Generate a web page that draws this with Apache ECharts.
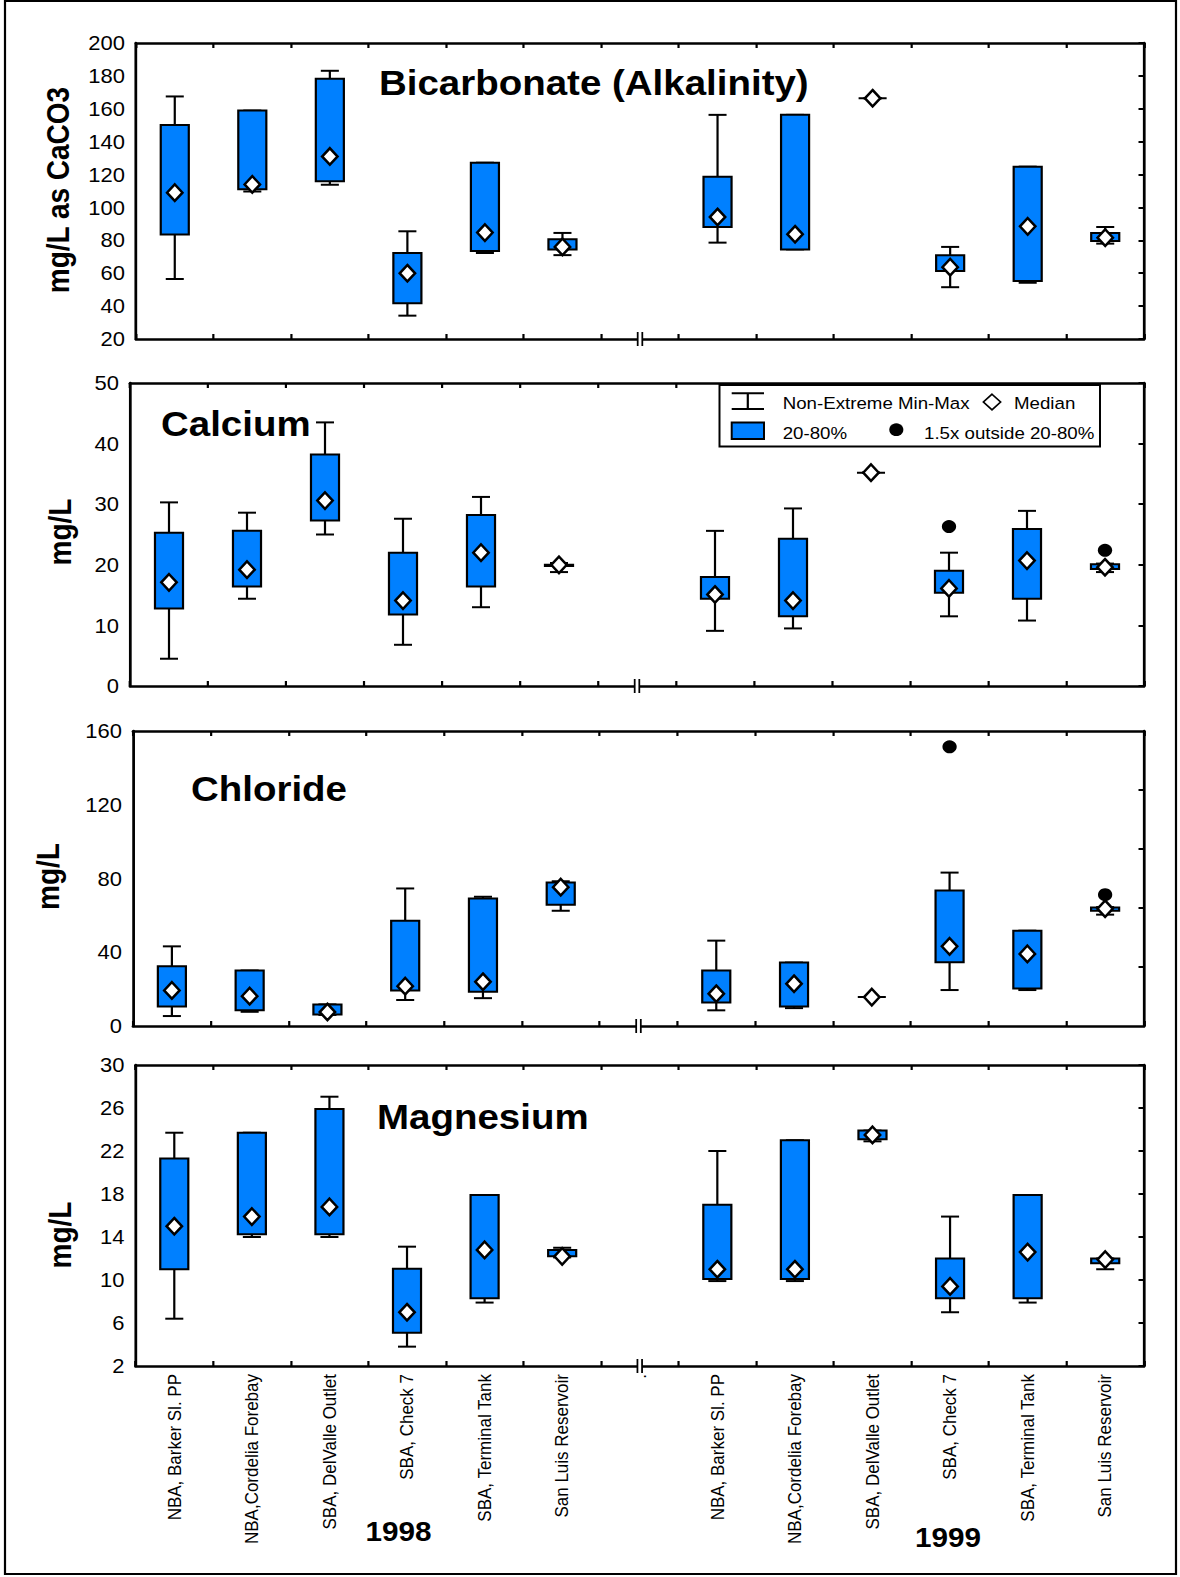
<!DOCTYPE html>
<html>
<head>
<meta charset="utf-8">
<title>Water quality box plots 1998-1999</title>
<script src="https://cdn.jsdelivr.net/npm/echarts@6/dist/echarts.min.js"></script>
<style>
  html, body { margin: 0; padding: 0; background: #fff; overflow: hidden; }
  #chart { width: 1073px; height: 1577px; transform: scaleX(1.09972); transform-origin: 0 0; }
</style>
</head>
<body>
<div id="chart"></div>
<script>
// Horizontal stretch applied to the whole drawing (see the CSS transform above).
const SX = 1180 / 1073;
const X = v => v / SX;

// ---------------- data ----------------
const stations = ['NBA, Barker Sl. PP', 'NBA,Cordelia Forebay', 'SBA, DelValle Outlet',
                  'SBA, Check 7', 'SBA, Terminal Tank', 'San Luis Reservoir'];
const yearLabels = ['1998', '1999'];
// 13 slots on the x axis: six 1998 sites, an axis break, six 1999 sites
const categories = [...stations, '.', ...stations];
const siteSlots = [0, 1, 2, 3, 4, 5, 7, 8, 9, 10, 11, 12];
const breakSlot = 6;

// Bicarbonate (Alkalinity), mg/L as CaCO3
const hco3Min    = [56.5, 109.7, 113.8, 34.2, 72.3, 71.0, 78.6, 74.5, 166.4, 51.5, 54.2, 78.0];
const hco3P20    = [83.5, 111.1, 116.0, 41.8, 73.5, 74.5, 88.1, 74.5, 166.4, 61.3, 55.2, 79.6];
const hco3Median = [109.0, 114.0, 131.0, 60.0, 84.7, 76.0, 94.2, 83.7, 166.4, 63.7, 88.5, 81.6];
const hco3P80    = [150.2, 158.9, 178.2, 72.3, 127.2, 80.6, 118.6, 156.3, 166.4, 70.9, 124.8, 84.5];
const hco3Max    = [167.5, 158.9, 183.1, 85.5, 127.2, 84.5, 156.3, 156.3, 166.4, 76.0, 124.8, 88.1];
const hco3Outliers = [null, null, null, null, null, null, null, null, null, null, null, null];
const hco3Ticks  = [20, 40, 60, 80, 100, 120, 140, 160, 180, 200];

// Calcium, mg/L
const caMin    = [4.5, 14.4, 25.0, 6.8, 13.0, 18.8, 9.1, 9.5, 35.2, 11.5, 10.8, 18.8];
const caP20    = [12.8, 16.4, 27.3, 11.8, 16.4, 19.8, 14.4, 11.5, 35.2, 15.4, 14.4, 19.3];
const caMedian = [17.1, 19.2, 30.6, 14.1, 22.0, 20.0, 15.1, 14.1, 35.2, 16.1, 20.7, 19.6];
const caP80    = [25.3, 25.6, 38.2, 22.0, 28.2, 20.0, 18.0, 24.3, 35.2, 19.0, 25.9, 20.1];
const caMax    = [30.3, 28.6, 43.5, 27.6, 31.2, 20.3, 25.6, 29.3, 35.2, 22.0, 28.9, 20.2];
const caOutliers = [null, null, null, null, null, null, null, null, null, 26.3, null, 22.4];
const caTicks  = [0, 10, 20, 30, 40, 50];

// Chloride, mg/L
const clMin    = [5.4, 7.7, 6.0, 14.1, 15.1, 62.5, 8.5, 9.7, 15.7, 19.5, 19.5, 60.4];
const clP20    = [10.6, 8.5, 6.3, 19.3, 18.6, 65.8, 12.8, 10.6, 15.7, 34.6, 20.4, 62.5];
const clMedian = [19.3, 16.2, 7.6, 21.6, 24.0, 75.3, 17.5, 22.9, 15.7, 43.2, 39.1, 63.6];
const clP80    = [32.4, 30.1, 11.7, 57.1, 69.2, 77.8, 30.1, 34.4, 15.7, 73.5, 51.7, 64.3];
const clMax    = [43.2, 30.1, 11.7, 74.6, 70.1, 78.5, 46.3, 34.4, 15.7, 83.2, 51.7, 64.5];
const clOutliers = [null, null, null, null, null, null, null, null, null, 151.4, null, 71.2];
const clTicks  = [0, 40, 80, 120, 160];
const clRightTicks = [32, 64, 96, 128];

// Magnesium, mg/L
const mgMin    = [6.4, 14.0, 14.0, 3.8, 7.9, 12.1, 9.9, 9.9, 22.9, 7.0, 7.9, 11.0];
const mgP20    = [11.0, 14.25, 14.25, 5.1, 8.3, 12.2, 10.1, 10.1, 23.1, 8.3, 8.3, 11.55];
const mgMedian = [15.0, 15.9, 16.8, 7.0, 12.8, 12.2, 11.0, 11.0, 23.5, 9.4, 12.6, 11.9];
const mgP80    = [21.3, 23.7, 25.9, 11.05, 17.9, 12.8, 17.0, 23.0, 23.9, 12.0, 17.9, 12.0];
const mgMax    = [23.7, 23.7, 27.05, 13.1, 17.9, 13.0, 22.0, 23.0, 23.9, 15.9, 17.9, 12.0];
const mgOutliers = [null, null, null, null, null, null, null, null, null, null, null, null];
const mgTicks  = [2, 6, 10, 14, 18, 22, 26, 30];

// ---------------- panels ----------------
const panels = [
  { title: 'Bicarbonate (Alkalinity)', unit: 'mg/L as CaCO3',
    stats: [hco3Min, hco3P20, hco3Median, hco3P80, hco3Max], outliers: hco3Outliers,
    ticks: hco3Ticks, rightTicks: hco3Ticks },
  { title: 'Calcium', unit: 'mg/L',
    stats: [caMin, caP20, caMedian, caP80, caMax], outliers: caOutliers,
    ticks: caTicks, rightTicks: caTicks },
  { title: 'Chloride', unit: 'mg/L',
    stats: [clMin, clP20, clMedian, clP80, clMax], outliers: clOutliers,
    ticks: clTicks, rightTicks: clRightTicks },
  { title: 'Magnesium', unit: 'mg/L',
    stats: [mgMin, mgP20, mgMedian, mgP80, mgMax], outliers: mgOutliers,
    ticks: mgTicks, rightTicks: mgTicks }
];

// page layout of each panel (screen pixels)
const layout = [
  { left: 136, top: 43, bottom: 339, titleX: 379, titleY: 83.5, unitX: 58, unitY: 190 },
  { left: 130, top: 383, bottom: 686, titleX: 161, titleY: 424, unitX: 60.5, unitY: 532 },
  { left: 133, top: 731, bottom: 1026, titleX: 191, titleY: 789.5, unitX: 48.5, unitY: 876.5 },
  { left: 135.5, top: 1065, bottom: 1366, titleX: 377, titleY: 1117, unitX: 60.5, unitY: 1235 }
];
const PLOT_RIGHT = 1144;

const FONT = '"Liberation Sans", Arial, Helvetica, sans-serif';
const BLUE = '#0080ff';
const BOX_W = 25.5;   // chart units (stretched on screen)
const CAP_W = 16.4;

function renderBox(params, api) {
  const x = api.value(0);
  const pMin = api.coord([x, api.value(1)]);
  const pLow = api.coord([x, api.value(2)]);
  const pHigh = api.coord([x, api.value(3)]);
  const pMax = api.coord([x, api.value(4)]);
  const cx = pMin[0];
  const stroke = { stroke: '#000', lineWidth: 2 };
  return {
    type: 'group',
    children: [
      { type: 'line', shape: { x1: cx, y1: pMin[1], x2: cx, y2: pMax[1] }, style: stroke },
      { type: 'line', shape: { x1: cx - CAP_W / 2, y1: pMin[1], x2: cx + CAP_W / 2, y2: pMin[1] }, style: stroke },
      { type: 'line', shape: { x1: cx - CAP_W / 2, y1: pMax[1], x2: cx + CAP_W / 2, y2: pMax[1] }, style: stroke },
      { type: 'rect',
        shape: { x: cx - BOX_W / 2, y: pHigh[1], width: BOX_W, height: pLow[1] - pHigh[1] },
        style: { fill: BLUE, stroke: '#000', lineWidth: 2 } }
    ]
  };
}

// "||" mark where the x axis is broken between the two years
function renderBreak(params, api) {
  const p = api.coord([api.value(0), api.value(1)]);
  const g = 2.1, h = 7;
  const s = { stroke: '#000', lineWidth: 1.6 };
  return {
    type: 'group',
    children: [
      { type: 'rect', shape: { x: p[0] - g, y: p[1] - 3, width: 2 * g, height: 6 }, style: { fill: '#fff' } },
      { type: 'line', shape: { x1: p[0] - g, y1: p[1] - h, x2: p[0] - g, y2: p[1] + h }, style: s },
      { type: 'line', shape: { x1: p[0] + g, y1: p[1] - h, x2: p[0] + g, y2: p[1] + h }, style: s }
    ]
  };
}

const grids = [], xAxes = [], yAxes = [], series = [], graphics = [];
const axisLine = { show: true, onZero: false, lineStyle: { color: '#000', width: 2.5 } };

panels.forEach((p, i) => {
  const L = layout[i];
  grids.push({ left: X(L.left), right: X(1180 - PLOT_RIGHT), top: L.top, height: L.bottom - L.top });
  const isLast = i === panels.length - 1;
  const catTick = { show: true, inside: true, length: 5, interval: 0, lineStyle: { color: '#000', width: 2 } };
  xAxes.push({
    type: 'category', gridIndex: i, position: 'bottom', data: categories,
    axisLine, axisTick: catTick, splitLine: { show: false },
    axisLabel: { show: isLast, interval: 0, rotate: 90, margin: 8, color: '#000', fontSize: 17, fontFamily: FONT }
  });
  xAxes.push({
    type: 'category', gridIndex: i, position: 'top', data: categories,
    axisLine, axisTick: catTick, axisLabel: { show: false }, splitLine: { show: false }
  });
  const ymin = p.ticks[0], ymax = p.ticks[p.ticks.length - 1];
  yAxes.push({
    type: 'value', gridIndex: i, position: 'left', min: ymin, max: ymax,
    axisLine, axisTick: { show: false }, splitLine: { show: false },
    axisLabel: { customValues: p.ticks, margin: 10, color: '#000', fontSize: 20, fontFamily: FONT }
  });
  yAxes.push({
    type: 'value', gridIndex: i, position: 'right', min: ymin, max: ymax,
    axisLine, splitLine: { show: false }, axisLabel: { show: false },
    axisTick: { show: true, inside: true, length: 5, customValues: p.rightTicks, lineStyle: { color: '#000', width: 2 } }
  });

  const [lo, p20, med, p80, hi] = p.stats;
  series.push({
    type: 'custom', xAxisIndex: 2 * i, yAxisIndex: 2 * i, renderItem: renderBox,
    encode: { x: 0, y: [1, 2, 3, 4] }, z: 3, silent: true,
    data: siteSlots.map((s, k) => [s, lo[k], p20[k], p80[k], hi[k]])
  });
  series.push({
    type: 'scatter', xAxisIndex: 2 * i, yAxisIndex: 2 * i, z: 5, silent: true,
    symbol: 'diamond', symbolSize: [14, 16.5],
    itemStyle: { color: '#fff', borderColor: '#000', borderWidth: 2.4, opacity: 1 },
    data: siteSlots.map((s, k) => [s, med[k]])
  });
  series.push({
    type: 'scatter', xAxisIndex: 2 * i, yAxisIndex: 2 * i, z: 5, silent: true,
    symbol: 'circle', symbolSize: 13, itemStyle: { color: '#000', opacity: 1 },
    data: siteSlots.map((s, k) => p.outliers[k] == null ? null : [s, p.outliers[k]]).filter(Boolean)
  });
  series.push({
    type: 'custom', xAxisIndex: 2 * i, yAxisIndex: 2 * i, renderItem: renderBreak, clip: false,
    z: 6, silent: true, data: [[breakSlot, ymin]]
  });

  graphics.push({
    type: 'text', x: X(L.titleX), y: L.titleY, z: 50, silent: true,
    style: { text: p.title, font: 'bold 35px ' + FONT, fill: '#000', textAlign: 'left', textVerticalAlign: 'middle' }
  });
  graphics.push({
    type: 'text', x: X(L.unitX), y: L.unitY, rotation: Math.PI / 2, z: 50, silent: true,
    style: { text: p.unit, font: 'bold 28px ' + FONT, fill: '#000', textAlign: 'center', textVerticalAlign: 'middle' }
  });
});

// year captions under the site names
[[398.5, 1531], [948, 1537]].forEach((pos, k) => {
  graphics.push({
    type: 'text', x: X(pos[0]), y: pos[1], z: 50, silent: true,
    style: { text: yearLabels[k], font: 'bold 27px ' + FONT, fill: '#000', textAlign: 'center', textVerticalAlign: 'middle' }
  });
});

// legend box inside the calcium panel
const lg = { stroke: '#000', lineWidth: 2 };
const legendText = (t, x, y) => ({
  type: 'text', x: X(x), y: y, z: 61, silent: true,
  style: { text: t, font: '17px ' + FONT, fill: '#000', textAlign: 'left', textVerticalAlign: 'middle' }
});
graphics.push(
  { type: 'rect', z: 60, silent: true, shape: { x: X(719.5), y: 385, width: X(380.5), height: 61.5 },
    style: { fill: '#fff', stroke: '#000', lineWidth: 1.8 } },
  { type: 'line', z: 61, silent: true, shape: { x1: X(731.7), y1: 393.3, x2: X(764), y2: 393.3 }, style: lg },
  { type: 'line', z: 61, silent: true, shape: { x1: X(731.7), y1: 409, x2: X(764), y2: 409 }, style: lg },
  { type: 'line', z: 61, silent: true, shape: { x1: X(747.8), y1: 393.3, x2: X(747.8), y2: 409 }, style: lg },
  legendText('Non-Extreme Min-Max', 782.7, 403),
  { type: 'polygon', z: 61, silent: true,
    shape: { points: [[X(992), 394.2], [X(1000.6), 402], [X(992), 409.8], [X(983.4), 402]] },
    style: { fill: '#fff', stroke: '#000', lineWidth: 1.6 } },
  legendText('Median', 1014, 403),
  { type: 'rect', z: 61, silent: true, shape: { x: X(731.7), y: 422.5, width: X(32.3), height: 16.5 },
    style: { fill: BLUE, stroke: '#000', lineWidth: 1.8 } },
  legendText('20-80%', 782.7, 433),
  { type: 'circle', z: 61, silent: true, shape: { cx: X(896.3), cy: 429.7, r: 6.4 }, style: { fill: '#000' } },
  legendText('1.5x outside 20-80%', 924, 433)
);

// outer frame
graphics.push({
  type: 'rect', z: 1, silent: true, shape: { x: X(5), y: 1, width: X(1171), height: 1573 },
  style: { fill: 'none', stroke: '#000', lineWidth: 2 }
});

const chart = echarts.init(document.getElementById('chart'), null, { renderer: 'svg', width: 1073, height: 1577 });
chart.setOption({
  animation: false,
  backgroundColor: '#fff',
  textStyle: { fontFamily: FONT },
  grid: grids,
  xAxis: xAxes,
  yAxis: yAxes,
  series: series,
  graphic: graphics
});
</script>
</body>
</html>
